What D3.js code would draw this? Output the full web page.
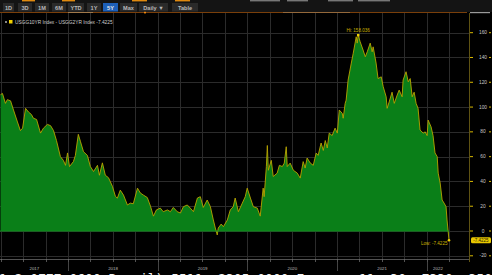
<!DOCTYPE html>
<html><head><meta charset="utf-8">
<script src="https://cdn.jsdelivr.net/npm/d3@7"></script>
<style>html,body{margin:0;padding:0;background:#000;overflow:hidden}svg{display:block}</style>
</head><body>
<svg id="c" width="492" height="275"></svg>
<script>
// ---------- DATA ----------
const dates = [
"2017-03-31","2017-04-08","2017-04-20","2017-04-28","2017-05-11","2017-05-23","2017-06-08","2017-06-20","2017-06-29",
"2017-07-11","2017-07-23","2017-08-04","2017-08-12","2017-08-25","2017-09-10","2017-09-22","2017-10-08","2017-10-21",
"2017-11-02","2017-11-14","2017-11-30","2017-12-12","2017-12-21","2017-12-29",
"2018-01-06","2018-01-22","2018-01-30","2018-02-11","2018-02-20","2018-03-04","2018-03-20","2018-04-01","2018-04-14",
"2018-04-30","2018-05-08","2018-05-20","2018-06-01","2018-06-14","2018-06-30","2018-07-12","2018-07-20","2018-08-01",
"2018-08-14","2018-08-30","2018-09-11","2018-09-23","2018-10-10","2018-10-22","2018-11-03","2018-11-19","2018-12-02",
"2018-12-14","2018-12-26",
"2019-01-11","2019-01-23","2019-02-09","2019-02-21","2019-03-05","2019-03-21","2019-04-03","2019-04-15","2019-05-01",
"2019-05-13","2019-05-26","2019-06-11","2019-06-23","2019-07-05","2019-07-21","2019-08-03","2019-08-15","2019-08-23",
"2019-08-31","2019-09-04","2019-09-16","2019-09-25","2019-10-11","2019-10-23","2019-11-04","2019-11-12","2019-11-25",
"2019-12-11","2019-12-23","2019-12-31",
"2020-01-13","2020-01-25","2020-02-10","2020-02-22","2020-03-05","2020-03-09","2020-03-18","2020-03-22","2020-03-26",
"2020-04-07","2020-04-15","2020-05-01","2020-05-10","2020-05-22","2020-05-30","2020-06-07","2020-06-11","2020-06-23",
"2020-07-06","2020-07-22","2020-08-03","2020-08-15","2020-08-23","2020-08-31","2020-09-13","2020-09-25","2020-10-07",
"2020-10-15","2020-10-27","2020-11-05","2020-11-13","2020-11-21","2020-11-29","2020-12-11","2020-12-23",
"2021-01-01","2021-01-09","2021-01-21","2021-01-25","2021-02-02","2021-02-06","2021-02-14","2021-02-27","2021-03-07",
"2021-03-19","2021-03-23","2021-03-27","2021-04-04","2021-04-16","2021-04-25","2021-05-03","2021-05-15","2021-05-23",
"2021-05-27","2021-06-08","2021-06-16","2021-06-29","2021-07-07","2021-07-19","2021-07-23","2021-07-31","2021-08-12",
"2021-08-21","2021-09-02","2021-09-10","2021-09-22","2021-09-26","2021-10-08","2021-10-17","2021-10-25","2021-11-02",
"2021-11-10","2021-11-18","2021-11-26","2021-12-04","2021-12-17","2021-12-25",
"2022-01-02","2022-01-06","2022-01-18","2022-01-26","2022-02-03","2022-02-12","2022-02-16","2022-02-24","2022-03-04",
"2022-03-12","2022-03-20","2022-03-24","2022-04-01"
];
const spread = [
110,111,103,106,105,97.6,88,81,83,
99,96,94,91,90,79,83,86,85,
81,73,60,57,53,63,
52,56,61,78,72,64,61,52,48,
53,45,55,45,43,36,28,26.5,33,
29,21,22.5,22,34.6,30.6,29,27,20,
12,17,
18.5,15.6,17,15.6,19,15.6,14.5,19.6,21,
18.5,15.6,26.6,27.7,19,25,19.6,8.9,2.4,
-3.2,2.4,5.6,3.5,8.9,17,19.6,26.6,15.6,
22.5,27.7,34.6,
26.6,19.6,18.5,12,34.6,27.7,52,69,49,
57,44,46.7,53,52,54.8,68,52,54.8,
49,46.7,42.7,56,50.8,58.9,54.8,53,62.9,
61,71,65,73,67,79,77,83,
79,97.6,95,91,103,105.6,121.8,135.5,143.5,
156.7,151.6,158.036,152.7,146,140.6,144.6,151.6,144.6,
148.6,135.5,123,124.4,116.4,108.3,99,104,112,
103,109.7,113.7,108.3,121.8,128.5,120.4,123,108.3,
112,103,99,81.5,79,80,
77,89.5,84,77,63,60,46.7,38.7,25,
22.5,19.6,8.9,-7.4225
];
const yTicks = [-20,0,20,40,60,80,100,120,140,160];
const yearLabels = ["2017","2018","2019","2020","2021","2022"];
const buttons = ["1D","3D","1M","6M","YTD","1Y","5Y","Max","Daily \u25BC","Table"];
const selectedButton = "5Y";
const legendText = "USGG10YR Index - USGG2YR Index -7.4225";
const hiText = "Hi: 158.036";
const lowText = "Low: -7.4225";
const lastText = "-7.4225";
const tickerText = "1 2 0777 0600 Bermil) 5511  2305 0000 Europe  11  30  7330  3500 Germany";

// ---------- LAYOUT ----------
const svg = d3.select("#c");
const W = 492, H = 275;
const plotTop = 13, plotRight = 469, axisY = 259.5;
const parse = d3.timeParse("%Y-%m-%d");
const data = dates.map((d,i)=>({date:parse(d), v:spread[i]}));
const x = d3.scaleTime().domain([parse("2017-03-31"), parse("2022-04-01")]).range([0.5, 449]);
const y = d3.scaleLinear().domain([-20,160]).range([255.8, 32.7]);
const font = "'Liberation Sans', Arial, sans-serif";

svg.append("rect").attr("width",W).attr("height",H).attr("fill","#000");

// gridlines
const grid = svg.append("g");
const quarters = d3.timeMonth.every(3).range(parse("2017-04-01"), parse("2022-04-02"));
grid.selectAll("line.v").data(quarters).join("line")
  .attr("x1",d=>Math.round(x(d))+0.5).attr("x2",d=>Math.round(x(d))+0.5)
  .attr("y1",plotTop).attr("y2",axisY)
  .attr("stroke","#2b2b2b").attr("stroke-width",1);
grid.selectAll("line.h").data(yTicks).join("line")
  .attr("x1",0).attr("x2",plotRight)
  .attr("y1",d=>Math.round(y(d))+0.5).attr("y2",d=>Math.round(y(d))+0.5)
  .attr("stroke","#2b2b2b").attr("stroke-width",1);

// area + line
const area = d3.area().x(d=>x(d.date)).y0(y(0)).y1(d=>y(d.v)).curve(d3.curveLinear);
const line = d3.line().x(d=>x(d.date)).y(d=>y(d.v));
svg.append("path").datum(data).attr("d",area).attr("fill","#0a7f18");
svg.append("path").datum(data).attr("d",line).attr("fill","none")
  .attr("stroke","#b9a400").attr("stroke-width",0.9).attr("stroke-linejoin","round");
svg.append("line").attr("x1",0).attr("x2",x(data[data.length-1].date))
  .attr("y1",y(0)).attr("y2",y(0)).attr("stroke","#0e8f1c").attr("stroke-width",1);

// hi / low annotations
const hi = data.reduce((a,b)=>b.v>a.v?b:a);
const lo = data[data.length-1];
svg.append("rect").attr("x",x(hi.date)-1.2).attr("y",y(hi.v)-1.2).attr("width",2.4).attr("height",2.4).attr("fill","#f0d000");
svg.append("text").attr("x",x(hi.date)).attr("y",y(hi.v)-3).attr("text-anchor","middle")
  .attr("font-family",font).attr("font-size",4.6).attr("fill","#c9b000").text(hiText);
svg.append("circle").attr("cx",x(lo.date)).attr("cy",y(lo.v)).attr("r",1.3).attr("fill","#f0d000");
svg.append("text").attr("x",x(lo.date)-1.5).attr("y",y(lo.v)+4.5).attr("text-anchor","end")
  .attr("font-family",font).attr("font-size",4.6).attr("fill","#c9b000").text(lowText);

// right axis
svg.append("line").attr("x1",plotRight+0.5).attr("x2",plotRight+0.5).attr("y1",plotTop).attr("y2",262)
  .attr("stroke","#5e5212").attr("stroke-width",1);
const ra = svg.append("g");
ra.selectAll("line.t").data(yTicks).join("line")
  .attr("x1",plotRight+1).attr("x2",plotRight+4).attr("y1",d=>y(d)).attr("y2",d=>y(d))
  .attr("stroke","#d8b800").attr("stroke-width",1);
ra.selectAll("line.t2").data(yTicks).join("line")
  .attr("x1",489).attr("x2",491).attr("y1",d=>y(d)).attr("y2",d=>y(d))
  .attr("stroke","#d8b800").attr("stroke-width",1);
ra.selectAll("text").data(yTicks).join("text")
  .attr("x",483).attr("y",d=>y(d)+1.6).attr("text-anchor","middle")
  .attr("font-family",font).attr("font-size",4.8).attr("fill","#c8c8c8").text(d=>d);
const tagY = y(lo.v);
svg.append("rect").attr("x",471).attr("y",tagY-3).attr("width",20).attr("height",6).attr("rx",1.5)
  .attr("fill","#e9c800");
svg.append("text").attr("x",481).attr("y",tagY+1.6).attr("text-anchor","middle")
  .attr("font-family",font).attr("font-size",4.5).attr("fill","#2a2200").text(lastText);

// bottom axis
svg.append("line").attr("x1",0).attr("x2",plotRight).attr("y1",axisY).attr("y2",axisY)
  .attr("stroke","#8a8a8a").attr("stroke-width",0.6);
svg.append("g").selectAll("line").data(quarters).join("line")
  .attr("x1",d=>Math.round(x(d))+0.5).attr("x2",d=>Math.round(x(d))+0.5)
  .attr("y1",axisY).attr("y2",axisY+2.5).attr("stroke","#8a8a8a").attr("stroke-width",0.6);
const years = yearLabels.map(s=>parse(s+"-01-01"));
svg.append("g").selectAll("line").data(years.slice(1)).join("line")
  .attr("x1",d=>Math.round(x(d))+0.5).attr("x2",d=>Math.round(x(d))+0.5)
  .attr("y1",axisY+2.5).attr("y2",271).attr("stroke","#555").attr("stroke-width",0.8);
const [d0,d1] = x.domain();
svg.append("g").selectAll("text").data(years).join("text")
  .attr("x",d=>{const a=d<d0?d0:d; const e=d3.timeYear.offset(d,1); const b=e>d1?d1:e; return (x(a)+x(b))/2;})
  .attr("y",269.6).attr("text-anchor","middle")
  .attr("font-family",font).attr("font-size",4.4).attr("fill","#bdbdbd")
  .text((d,i)=>yearLabels[i]);

// bottom ticker (cut off by window edge, as in the reference)
svg.append("text").attr("x",-1).attr("y",283)
  .attr("font-family","'DejaVu Sans Mono', monospace").attr("font-size",13)
  .attr("fill","#f2f2f2").style("white-space","pre").text(tickerText);

// ---------- TOOLBAR ----------
const tb = svg.append("g");
tb.append("rect").attr("x",0).attr("y",0).attr("width",W).attr("height",12).attr("fill","#141414");
const topMarks = [[22,35,"#e08a10"],[62,75,"#e08a10"],[132,147,"#e08a10"],[175,190,"#e08a10"],
                  [250,280,"#777"],[287,308,"#777"],[328,353,"#777"],[358,390,"#777"]];
tb.selectAll("rect.m").data(topMarks).join("rect")
  .attr("x",d=>d[0]).attr("y",0).attr("width",d=>d[1]-d[0]).attr("height",1.4).attr("fill",d=>d[2]);
const btnBoxes = [[3,14],[18,32],[35,49],[52,66],[68,84],[87,101],[103,118],[120,137],[139,168],[172,198]];
const bg = tb.selectAll("g.b").data(buttons).join("g");
bg.append("rect").attr("x",(d,i)=>btnBoxes[i][0]).attr("y",3).attr("width",(d,i)=>btnBoxes[i][1]-btnBoxes[i][0])
  .attr("height",8.5).attr("fill",d=>d===selectedButton?"#1d5fb8":"#2a2a2a");
bg.append("text").attr("x",(d,i)=>(btnBoxes[i][0]+btnBoxes[i][1])/2).attr("y",9.6)
  .attr("text-anchor","middle").attr("font-family",font).attr("font-size",5.6).attr("font-weight","bold")
  .attr("fill",d=>d===selectedButton?"#e8e8e8":"#b8b8b8").text(d=>d);
tb.append("rect").attr("x",0).attr("y",12).attr("width",467).attr("height",1).attr("fill","#7a3f0a");
tb.append("rect").attr("x",68).attr("y",12).attr("width",25).attr("height",1).attr("fill","#a0784a");
tb.append("rect").attr("x",283).attr("y",12).attr("width",67).attr("height",1).attr("fill","#94683a");
tb.append("rect").attr("x",144).attr("y",11.8).attr("width",2).attr("height",1.6).attr("fill","#f08a10");
tb.append("rect").attr("x",470).attr("y",12).attr("width",20).attr("height",1.2).attr("fill","#9a9a9a");

// legend
svg.append("rect").attr("x",5).attr("y",21).attr("width",2).attr("height",2).attr("fill","#888");
svg.append("rect").attr("x",9).attr("y",20).attr("width",3.5).attr("height",3.5).attr("fill","#f0d000");
svg.append("text").attr("x",15).attr("y",24).attr("font-family",font).attr("font-size",4.8)
  .attr("fill","#cfcfcf").text(legendText);
</script>
</body></html>
